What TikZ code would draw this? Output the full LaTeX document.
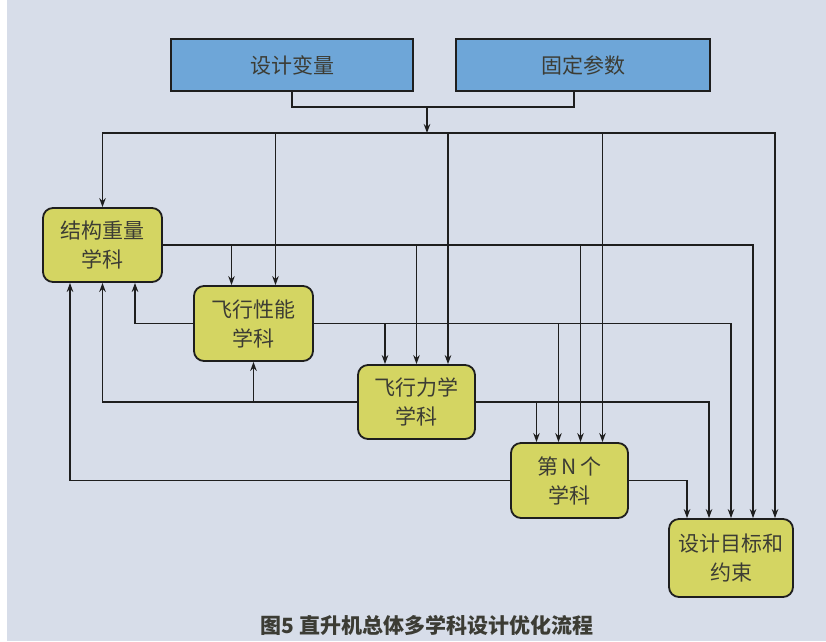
\documentclass[tikz,border=0pt]{standalone}
\usepackage{fontspec}
\setmainfont{Noto Sans CJK SC}
\usetikzlibrary{calc,arrows.meta}
\definecolor{bgc}{HTML}{D7DDE9}
\definecolor{bluebox}{HTML}{6EA6D8}
\definecolor{yelbox}{HTML}{D4D562}
\definecolor{txtc}{HTML}{3C3C34}
\definecolor{linec}{HTML}{1E1E1E}
\tikzset{
  topbox/.style={draw=linec, line width=1.8pt, fill=bluebox, text=txtc,
    font=\fontsize{21}{28}\selectfont, inner sep=0pt},
  discbox/.style={draw=linec, line width=1.8pt, fill=yelbox, text=txtc,
    rounded corners=10pt, align=center, font=\fontsize{21}{29}\selectfont, inner sep=0pt},
  wire/.style={draw=linec, line width=1.6pt},
  arr/.style={wire, -{Stealth[length=9pt,width=6.5pt]}}
}
\begin{document}
\begin{tikzpicture}[x=1pt,y=-1pt]
\useasboundingbox (0,0) rectangle (826,641);
\fill[bgc] (0,0) rectangle (826,641);
\fill[white] (0,0) rectangle (7,641);

% top boxes
\node[topbox, minimum width=242pt, minimum height=52pt] (dv) at (292,65) {设计变量};
\node[topbox, minimum width=254pt, minimum height=52pt] (fp) at (583,65) {固定参数};

% discipline boxes
\node[discbox, minimum width=119pt, minimum height=74pt] (jg) at (102.5,245) {结构重量\\学科};
\node[discbox, minimum width=119pt, minimum height=75pt] (fx) at (253.5,323.5) {飞行性能\\学科};
\node[discbox, minimum width=117pt, minimum height=74pt] (fl) at (416.5,402) {飞行力学\\学科};
\node[discbox, minimum width=117pt, minimum height=75pt] (dn) at (569.5,480.5) {第\,N\,个\\学科};
\node[discbox, minimum width=124pt, minimum height=78pt] (mb) at (731,558) {设计目标和\\约束};

% caption
\node[font=\fontsize{21}{24}\selectfont\bfseries, text=txtc] (cap) at (427,625) {图5\ 直升机总体多学科设计优化流程};

% merge of inputs
\coordinate (m) at (427,107);
\coordinate (bus) at (427,133);
\draw[wire] (dv.south) |- (m);
\draw[wire] ($(fp.south)+(-9,0)$) |- (m);
\draw[arr] (m) -- (bus);

% bus branches
\draw[arr] (bus) -| (jg.north);
\draw[arr] (bus) -| ($(fx.north)+(22,0)$);
\draw[arr] (bus) -| ($(fl.north)+(31.5,0)$);
\draw[arr] (bus) -| ($(dn.north)+(33,0)$);
\draw[arr] (bus) -| ($(mb.north)+(44,0)$);

% outputs of 结构重量
\draw[arr] (jg.east) -| ($(fx.north)+(-22,0)$);
\draw[arr] (jg.east) -| (fl.north);
\draw[arr] (jg.east) -| ($(dn.north)+(11,0)$);
\draw[arr] (jg.east) -| ($(mb.north)+(22,0)$);

% outputs of 飞行性能
\draw[arr] (fx.east) -| ($(fl.north)+(-31.5,0)$);
\draw[arr] (fx.east) -| ($(dn.north)+(-11,0)$);
\draw[arr] (fx.east) -| (mb.north);
\draw[arr] (fx.west) -| ($(jg.south)+(32.5,0)$);

% outputs of 飞行力学
\draw[arr] (fl.east) -| ($(dn.north)+(-33,0)$);
\draw[arr] (fl.east) -| ($(mb.north)+(-22,0)$);
\draw[arr] (fl.west) -| (jg.south);
\draw[arr] (fl.west) -| (fx.south);

% outputs of 第N个
\draw[arr] (dn.east) -| ($(mb.north)+(-44,0)$);
\draw[arr] (dn.west) -| ($(jg.south)+(-32.5,0)$);
\end{tikzpicture}
\end{document}
